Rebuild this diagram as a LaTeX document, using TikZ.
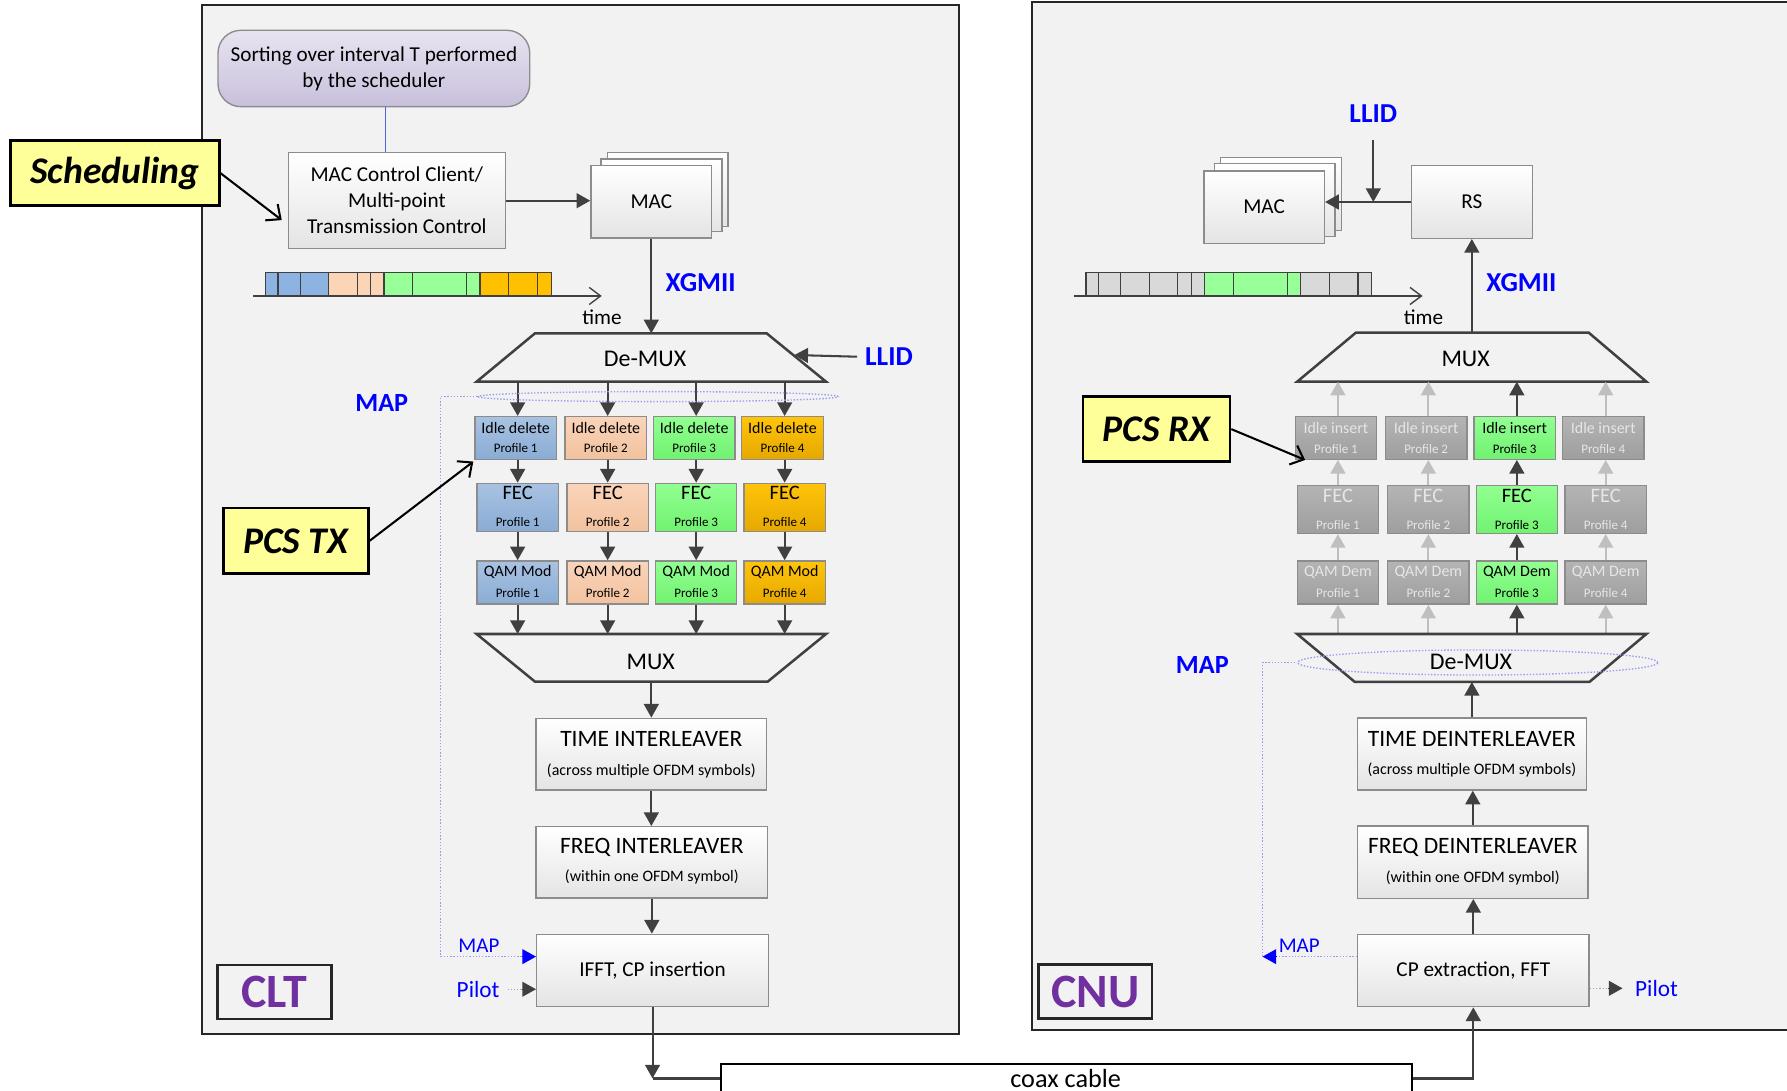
\documentclass[tikz,border=0pt]{standalone}
\usepackage{fontspec}
\setmainfont{Carlito}
\usetikzlibrary{arrows.meta,fit,calc,shapes.geometric}
\definecolor{bgc}{HTML}{F2F2F2}
\definecolor{bord}{HTML}{8C8C8C}
\definecolor{arc}{HTML}{404040}
\definecolor{garc}{HTML}{BFBFBF}
\definecolor{myblue}{HTML}{0000FF}
\definecolor{mapc}{HTML}{9A9AF5}
\definecolor{purp}{HTML}{7030A0}
\definecolor{yel}{HTML}{FFFF99}
\definecolor{tb}{HTML}{8DB3E2}
\definecolor{tp}{HTML}{FBD5B5}
\definecolor{tg}{HTML}{99FF99}
\definecolor{to}{HTML}{FFC000}
\definecolor{tgr}{HTML}{D9D9D9}
\newcommand{\profbox}[9]{%
  \node[#2, fit={#3 #4}] (#1) {};
  \node[#2txt, font=\fontsize{#9}{#9}\selectfont] (#1t) at ($(#1.north)!#7!(#1.south)$) {#5};
  \node[#2txt, font=\fontsize{5.7}{6}\selectfont] (#1p) at ($(#1.north)!#8!(#1.south)$) {#6};}
\newcommand{\titlebox}[7]{%
  \node[blk, fit={#2 #3}] (#1) {};
  \node[font=\fontsize{10.3}{12}\selectfont] (#1t) at ($(#1.north)!#6!(#1.south)$) {#4};
  \node[font=\fontsize{7}{8}\selectfont] (#1s) at ($(#1.north)!#7!(#1.south)$) {#5};}
\begin{document}
\begin{tikzpicture}[x=0.5pt,y=-0.5pt,
  outer/.style={draw=black!85, line width=1pt, fill=bgc, inner sep=0pt},
  blk/.style={draw=bord, line width=0.6pt, top color=white, bottom color={rgb,255:red,228;green,228;blue,228}, inner sep=0pt},
  pblue/.style={draw=bord, line width=0.6pt, inner sep=0pt, top color={rgb,255:red,168;green,194;blue,226}, bottom color={rgb,255:red,138;green,172;blue,212}},
  ppeach/.style={draw=bord, line width=0.6pt, inner sep=0pt, top color={rgb,255:red,250;green,212;blue,186}, bottom color={rgb,255:red,242;green,194;blue,158}},
  pgreen/.style={draw=bord, line width=0.6pt, inner sep=0pt, top color={rgb,255:red,146;green,255;blue,146}, bottom color={rgb,255:red,112;green,242;blue,112}},
  porange/.style={draw=bord, line width=0.6pt, inner sep=0pt, top color={rgb,255:red,255;green,196;blue,10}, bottom color={rgb,255:red,230;green,168;blue,0}},
  pgray/.style={draw=bord, line width=0.6pt, inner sep=0pt, top color={rgb,255:red,180;green,180;blue,180}, bottom color={rgb,255:red,158;green,158;blue,158}},
  pbluetxt/.style={text=black}, ppeachtxt/.style={text=black}, pgreentxt/.style={text=black},
  porangetxt/.style={text=black}, pgraytxt/.style={text={rgb,255:red,230;green,230;blue,230}},
  arr/.style={draw=arc, line width=0.9pt, -{Triangle[length=6pt,width=6.5pt]}},
  garr/.style={draw=garc, line width=0.9pt, -{Triangle[length=6pt,width=6.5pt]}},
  plain/.style={draw=arc, line width=0.9pt},
  trap/.style={draw=arc, line width=1.1pt, fill=bgc, line join=miter},
  callout/.style={draw=black, line width=1.1pt, fill=yel, inner sep=0pt},
  calltxt/.style={font=\fontsize{16.5}{18}\selectfont\bfseries\itshape},
  carr/.style={draw=black, line width=0.9pt, -{Straight Barb[length=5pt,width=9pt]}},
  mapl/.style={draw=mapc, line width=0.6pt, dash pattern=on 0.6pt off 0.8pt},
  pil/.style={draw=gray!70, line width=0.6pt, dash pattern=on 0.6pt off 0.8pt},
  bluelab/.style={text=myblue, font=\fontsize{12}{14}\selectfont\bfseries},
  smalllab/.style={text=myblue, font=\fontsize{9.2}{11}\selectfont},
  unitlab/.style={draw=black!85, line width=1.1pt, inner sep=0pt, fill=bgc},
  unittxt/.style={text=purp, font=\fontsize{21}{24}\selectfont\bfseries},
  timeax/.style={draw=arc, line width=0.6pt, -{Straight Barb[length=5pt,width=7.5pt]}},
  txt/.style={font=\fontsize{9.3}{11.4}\selectfont, align=center}
]
\useasboundingbox (0,0) rectangle (1568,957);
% outer frames
\node[outer, fit={(177.5,4.1) (841.5,907.3)}] (clt) {};
\node[outer, fit={(905.8,1.5) (1580,903.8)}] (cnu) {};
% coax
\node[draw=black, line width=1pt, fill=white, inner sep=0pt, fit={(632.6,933.6) (1239.2,959)}] (coax) {};
\node[font=\fontsize{11.5}{13}\selectfont] (coaxt) at (935,946) {coax cable};

% ================= CLT =================
\node[blk, rounded corners=10pt, top color={rgb,255:red,232;green,227;blue,240}, bottom color={rgb,255:red,200;green,192;blue,220}, fit={(191.3,26.6) (464.8,93.6)}] (sort) {};
\node[txt] (sortt) at (sort.center) {Sorting over interval T performed\\by the scheduler};
\node[blk, fit={(253.1,134) (443.3,218.2)}] (macc) {};
\node[txt] (macct) at (macc.center) {MAC Control Client/\\Multi-point\\Transmission Control};
\coordinate (sm) at ($(sort.south)!0.5!(macc.north)$);
\draw[draw={rgb,255:red,80;green,100;blue,220}, line width=0.5pt] (sort.south -| sm) -- (macc.north -| sm);

\node[blk, fit={(533,133.7) (638.8,198.9)}] (macA3) {};
\node[blk, fit={(527.5,139.5) (633.4,203.3)}] (macA2) {};
\node[blk, fit={(518.5,145.4) (624.4,208.8)}] (macA) {};
\node[txt] (macAt) at (macA.center) {MAC};
\draw[arr] (macc.east) -- (macc.east -| macA.west);

\node[callout, fit={(9.1,123.4) (192.4,180.5)}] (sched) {};
\node[calltxt] (schedt) at (sched.center) {Scheduling};
\coordinate (schedtip) at (247.2,193.1);
\draw[carr] (sched.east) -- (schedtip);

% timeline CLT
\foreach \a/\b/\c in {232.7/243.9/tb,243.9/263.3/tb,263.3/288.5/tb,288.5/313.8/tp,313.8/325.1/tp,325.1/336.9/tp,336.9/362.1/tg,362.1/409.4/tg,409.4/421.2/tg,421.2/446.5/to,446.5/471.8/to,471.8/484.2/to}
  \draw[fill=\c, draw=black!75, line width=0.5pt] (\a,238.9) rectangle (\b,259.7);
\coordinate (tA0) at (222,259.7);
\coordinate (tA1) at (528,259.7);
\draw[timeax] (tA0) -- (tA1);
\node[txt] (timeA) at (528.2,278.5) {time};

\node[bluelab] (xgA) at (614.8,248) {XGMII};
\coordinate (dmAt) at (571.7,292.5);
\draw[arr] (macA.south) -- (macA.south |- dmAt);

% De-MUX
\draw[trap] (469.4,292.5) -- (672.7,292.5) -- (724.8,334.9) -- (418.2,334.9) -- cycle;
\node[font=\fontsize{10.5}{12}\selectfont] (dmA) at (566,315.3) {De-MUX};
\coordinate (dmAb) at (571,334.9);
\node[bluelab] (llidA) at (780,313) {LLID};
\coordinate (dmAR) at (697,311.5);
\draw[arr] (llidA.west) -- (dmAR);

% profile boxes CLT
\profbox{ia1}{pblue}{(416.8,365.6)}{(488.1,403)}{Idle delete}{Profile 1}{0.27}{0.73}{7}
\profbox{ia2}{ppeach}{(495.8,365.6)}{(567.4,403)}{Idle delete}{Profile 2}{0.27}{0.73}{7}
\profbox{ia3}{pgreen}{(573.3,365.6)}{(644.9,403)}{Idle delete}{Profile 3}{0.27}{0.73}{7}
\profbox{ia4}{porange}{(650.8,365.6)}{(722.4,403)}{Idle delete}{Profile 4}{0.27}{0.73}{7}
\profbox{fa1}{pblue}{(418.5,424.1)}{(489.9,466.2)}{FEC}{Profile 1}{0.21}{0.80}{9}
\profbox{fa2}{ppeach}{(497.5,424.1)}{(568.9,466.2)}{FEC}{Profile 2}{0.21}{0.80}{9}
\profbox{fa3}{pgreen}{(575.3,424.1)}{(646.4,466.2)}{FEC}{Profile 3}{0.21}{0.80}{9}
\profbox{fa4}{porange}{(652.8,424.1)}{(724.2,466.2)}{FEC}{Profile 4}{0.21}{0.80}{9}
\profbox{qa1}{pblue}{(418.5,492.2)}{(489.9,530)}{QAM Mod}{Profile 1}{0.265}{0.73}{7}
\profbox{qa2}{ppeach}{(497.5,492.2)}{(568.9,530)}{QAM Mod}{Profile 2}{0.265}{0.73}{7}
\profbox{qa3}{pgreen}{(575.3,492.2)}{(646.4,530)}{QAM Mod}{Profile 3}{0.265}{0.73}{7}
\profbox{qa4}{porange}{(652.8,492.2)}{(724.2,530)}{QAM Mod}{Profile 4}{0.265}{0.73}{7}
\coordinate (muxAt) at (571,556.3);
\foreach \c in {1,2,3,4}{
  \draw[arr] (qa\c |- dmAb) -- (qa\c |- ia\c.north);
  \draw[arr] (qa\c |- ia\c.south) -- (fa\c.north);
  \draw[arr] (fa\c.south) -- (qa\c.north);
  \draw[arr] (qa\c.south) -- (qa\c.south |- muxAt);
}
% MAP ellipse CLT
\node[ellipse, mapl, minimum width=158pt, minimum height=4.4pt, inner sep=0pt] (ellA) at (577.6,348) {};
\coordinate (mapA1) at (386.7,348);
\coordinate (mapA2) at (386.7,839.4);
\node[bluelab, font=\fontsize{11.5}{13}\selectfont\bfseries] (mapA) at (335,353.7) {MAP};

% MUX CLT
\draw[trap] (418.2,556.3) -- (724.8,556.3) -- (673.6,598.1) -- (469.4,598.1) -- cycle;
\node[font=\fontsize{10.5}{12}\selectfont] (muxA) at (571,580.6) {MUX};
\coordinate (muxAb) at (571,598.1);

\titlebox{ti}{(470.3,630.3)}{(672.7,693.2)}{TIME INTERLEAVER}{(across multiple OFDM symbols)}{0.29}{0.73}
\titlebox{fi}{(470.3,725.4)}{(673.6,787.9)}{FREQ INTERLEAVER}{(within one OFDM symbol)}{0.295}{0.70}
\node[blk, fit={(470.9,819.8) (674.2,883.3)}] (ifft) {};
\node[txt] (ifftt) at (ifft.center) {IFFT, CP insertion};
\draw[arr] (ti.north |- muxAb) -- (ti.north);
\draw[arr] (ti.south) -- (ti.south |- fi.north);
\draw[arr] (fi.south) -- (fi.south |- ifft.north);
\draw[arr] (ifft.south) -- (ifft.south |- coax.west);
\draw[plain] (ifft.south |- coax.west) -- (coax.west);

\draw[mapl] (ellA.west) -- (mapA1) -- (mapA2) -- ($(mapA2 -| ifft.west)+(-12,0)$);
\draw[draw=myblue, line width=0.6pt, -{Triangle[length=6pt,width=6.5pt]}] ($(mapA2 -| ifft.west)+(-12,0)$) -- (mapA2 -| ifft.west);
\node[smalllab] (mapAs) at (420.2,830) {MAP};
\node[smalllab, font=\fontsize{10.2}{12}\selectfont] (pilA) at (419.5,868) {Pilot};
\draw[pil] (pilA.east) -- ($(pilA.east -| ifft.west)+(-12,0)$);
\draw[draw=arc, line width=0.6pt, -{Triangle[length=6pt,width=6.5pt]}] ($(pilA.east -| ifft.west)+(-12,0)$) -- (pilA.east -| ifft.west);

\node[callout, fit={(196,445.9) (323.2,503.2)}] (pcstx) {};
\node[calltxt] (pcstxt) at (pcstx.center) {PCS TX};
\coordinate (pcstxtip) at (415.3,405);
\draw[carr] (pcstx.east) -- (pcstxtip);
\node[unitlab, fit={(190.7,846.7) (291,894.1)}] (cltlab) {};
\node[unittxt] (cltt) at (cltlab.center) {CLT};

% ================= CNU =================
\node[blk, fit={(1071.1,138) (1177,202.4)}] (macB3) {};
\node[blk, fit={(1065.6,143.3) (1171.5,207.7)}] (macB2) {};
\node[blk, fit={(1056.3,150) (1162.1,213.5)}] (macB) {};
\node[txt] (macBt) at (macB.center) {MAC};
\node[blk, fit={(1238.5,145.4) (1344.4,209.1)}] (rs) {};
\node[txt] (rst) at (rs.center) {RS};
\draw[arr] (rs.west) -- (rs.west -| macB.east);
\node[bluelab] (llidB) at (1205,100) {LLID};
\draw[arr, shorten <=4pt] (llidB.south) -- (llidB.south |- rs.west);

\foreach \a/\b/\c in {952.9/963.9/tgr,963.9/983.4/tgr,983.4/1008.4/tgr,1008.4/1033.4/tgr,1033.4/1045.7/tgr,1045.7/1057.1/tgr,1057.1/1082.1/tg,1082.1/1129.6/tg,1129.6/1141/tg,1141/1166.4/tgr,1166.4/1191.5/tgr,1191.5/1203.3/tgr}
  \draw[fill=\c, draw=black!75, line width=0.5pt] (\a,238.9) rectangle (\b,259.7);
\coordinate (tB0) at (942.7,259.7);
\coordinate (tB1) at (1248.2,259.7);
\draw[timeax] (tB0) -- (tB1);
\node[txt] (timeB) at (1249,278.5) {time};

\node[bluelab] (xgB) at (1335,248.2) {XGMII};
\coordinate (muxBt) at (1291.4,291.9);
\draw[arr] (rs.south |- muxBt) -- (rs.south);

\draw[trap] (1189.7,291.9) -- (1394,291.9) -- (1444.6,334.9) -- (1138.2,334.9) -- cycle;
\node[font=\fontsize{10.5}{12}\selectfont] (muxB) at (1286,315) {MUX};
\coordinate (muxBb) at (1291,334.9);

\profbox{ib1}{pgray}{(1136.5,365.6)}{(1207.9,403)}{Idle insert}{Profile 1}{0.27}{0.75}{7}
\profbox{ib2}{pgray}{(1215.6,365.6)}{(1287.1,403)}{Idle insert}{Profile 2}{0.27}{0.75}{7}
\profbox{ib3}{pgreen}{(1293.3,365.6)}{(1364.8,403)}{Idle insert}{Profile 3}{0.27}{0.75}{7}
\profbox{ib4}{pgray}{(1371,365.6)}{(1442.5,403)}{Idle insert}{Profile 4}{0.27}{0.75}{7}
\profbox{fb1}{pgray}{(1138.2,425.9)}{(1209.7,468)}{FEC}{Profile 1}{0.22}{0.81}{9}
\profbox{fb2}{pgray}{(1217.7,425.9)}{(1288.9,468)}{FEC}{Profile 2}{0.22}{0.81}{9}
\profbox{fb3}{pgreen}{(1295.4,425.9)}{(1366.5,468)}{FEC}{Profile 3}{0.22}{0.81}{9}
\profbox{fb4}{pgray}{(1373.2,425.9)}{(1444.6,468)}{FEC}{Profile 4}{0.22}{0.81}{9}
\profbox{qb1}{pgray}{(1138.2,492.2)}{(1209.7,530)}{QAM Dem}{Profile 1}{0.265}{0.73}{7}
\profbox{qb2}{pgray}{(1217.7,492.2)}{(1288.9,530)}{QAM Dem}{Profile 2}{0.265}{0.73}{7}
\profbox{qb3}{pgreen}{(1295.4,492.2)}{(1366.5,530)}{QAM Dem}{Profile 3}{0.265}{0.73}{7}
\profbox{qb4}{pgray}{(1373.2,492.2)}{(1444.6,530)}{QAM Dem}{Profile 4}{0.265}{0.73}{7}
\coordinate (dmBt) at (1291,556.3);
\foreach \c/\st in {1/garr,2/garr,3/arr,4/garr}{
  \draw[\st] (qb\c |- dmBt) -- (qb\c.south);
  \draw[\st] (qb\c.north) -- (fb\c.south);
  \draw[\st] (fb\c.north) -- (fb\c |- ib\c.south);
  \draw[\st] (fb\c |- ib\c.north) -- (fb\c |- muxBb);
}

\draw[trap] (1138.2,556.3) -- (1444.6,556.3) -- (1394.6,598.4) -- (1188.8,598.4) -- cycle;
\node[font=\fontsize{10.5}{12}\selectfont] (dmB) at (1290.7,580.6) {De-MUX};
\coordinate (dmBb) at (1291,598.4);
\node[ellipse, mapl, minimum width=158pt, minimum height=11pt, inner sep=0pt] (ellB) at (1296.7,581.3) {};
\node[bluelab, font=\fontsize{11.5}{13}\selectfont\bfseries] (mapB) at (1055,583.4) {MAP};
\coordinate (mapB1) at (1107.8,581.3);
\coordinate (mapB2) at (1107.8,839.4);

\titlebox{td}{(1190.9,630)}{(1392.1,693.2)}{TIME DEINTERLEAVER}{(across multiple OFDM symbols)}{0.30}{0.72}
\titlebox{fd}{(1191.2,724.8)}{(1393.4,788.2)}{FREQ DEINTERLEAVER}{(within one OFDM symbol)}{0.295}{0.71}
\node[blk, fit={(1191.2,819.8) (1394.3,883.3)}] (cp) {};
\node[txt] (cpt) at (cp.center) {CP extraction, FFT};
\draw[arr] (td.north) -- (td.north |- dmBb);
\draw[arr] (fd.north) -- (fd.north |- td.south);
\draw[arr] (cp.north) -- (cp.north |- fd.south);
\draw[arr] (coax.east) -| (cp.south);

\draw[mapl] (cp.west |- mapB2) -- ($(mapB2)+(12,0)$);
\draw[draw=myblue, line width=0.6pt, -{Triangle[length=6pt,width=6.5pt]}] ($(mapB2)+(12,0)$) -- (mapB2);
\draw[mapl] (mapB2) -- (mapB1) -- (ellB.west);
\node[smalllab] (mapBs) at (1140,829.8) {MAP};
\node[smalllab, font=\fontsize{10.2}{12}\selectfont] (pilB) at (1453.5,867.2) {Pilot};
\draw[pil] (pilB.west -| cp.east) -- ($(pilB.west -| cp.east)+(16,0)$);
\draw[draw=arc, line width=0.6pt, -{Triangle[length=6pt,width=6.5pt]}] ($(pilB.west -| cp.east)+(16,0)$) -- ($(pilB.west)+(-4,0)$);

\node[callout, fit={(950.2,348) (1079.3,405.1)}] (pcsrx) {};
\node[calltxt] (pcsrxt) at (pcsrx.center) {PCS RX};
\coordinate (pcsrxtip) at (1145.2,403.6);
\draw[carr] (pcsrx.east) -- (pcsrxtip);
\node[unitlab, fit={(911,846.4) (1011,893.8)}] (cnulab) {};
\node[unittxt] (cnut) at (cnulab.center) {CNU};
\end{tikzpicture}
\end{document}
